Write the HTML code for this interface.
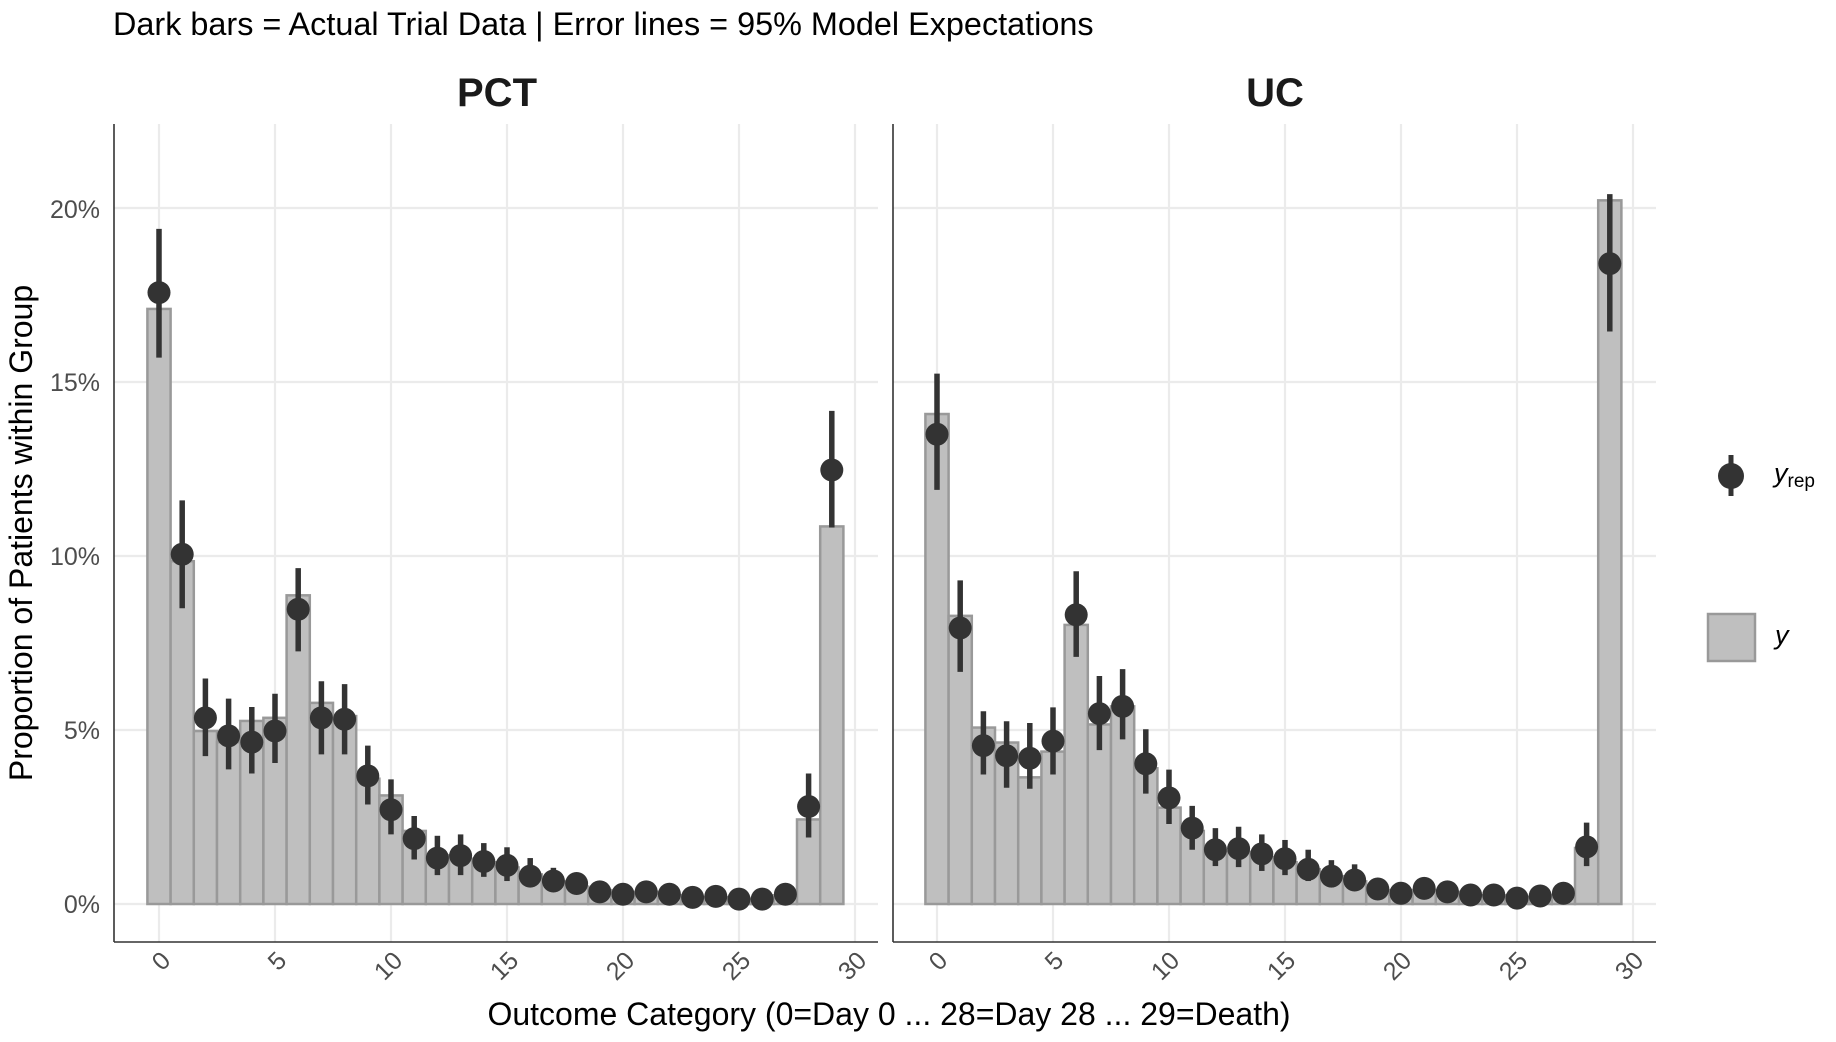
<!DOCTYPE html>
<html><head><meta charset="utf-8"><style>
html,body{margin:0;padding:0;background:#fff;}
svg{display:block;font-family:"Liberation Sans",sans-serif;}
</style></head><body>
<svg id="s" width="1836" height="1042" viewBox="0 0 1836 1042" xmlns="http://www.w3.org/2000/svg">
<rect width="1836" height="1042" fill="#fff"/>
<g id="grid"></g>
<g id="bars"></g>
<g id="pts"></g>
<!-- axes -->
<line x1="114" y1="124" x2="114" y2="942" stroke="#333" stroke-width="1.6"/>
<line x1="114" y1="942" x2="878" y2="942" stroke="#333" stroke-width="1.6"/>
<line x1="893" y1="124" x2="893" y2="942" stroke="#333" stroke-width="1.6"/>
<line x1="893" y1="942" x2="1656" y2="942" stroke="#333" stroke-width="1.6"/>
<text x="113" y="35" font-size="32.4" fill="#000">Dark bars = Actual Trial Data | Error lines = 95% Model Expectations</text>
<text x="497" y="106" font-size="40" font-weight="bold" text-anchor="middle" fill="#1a1a1a">PCT</text>
<text x="1275" y="106" font-size="40" font-weight="bold" text-anchor="middle" fill="#1a1a1a">UC</text>
<g font-size="25" fill="#4d4d4d" text-anchor="end">
<text x="100" y="913">0%</text>
<text x="100" y="739">5%</text>
<text x="100" y="565">10%</text>
<text x="100" y="391">15%</text>
<text x="100" y="218">20%</text>
</g>
<text transform="translate(32,533) rotate(-90)" font-size="32" text-anchor="middle" fill="#000">Proportion of Patients within Group</text>
<text x="889" y="1025" font-size="32" text-anchor="middle" fill="#000">Outcome Category (0=Day 0 ... 28=Day 28 ... 29=Death)</text>
<g font-size="25" fill="#4d4d4d" text-anchor="end">
<text transform="translate(172,962) rotate(-45)">0</text>
<text transform="translate(288,962) rotate(-45)">5</text>
<text transform="translate(404,962) rotate(-45)">10</text>
<text transform="translate(520,962) rotate(-45)">15</text>
<text transform="translate(636,962) rotate(-45)">20</text>
<text transform="translate(752,962) rotate(-45)">25</text>
<text transform="translate(868,962) rotate(-45)">30</text>
<text transform="translate(949,962) rotate(-45)">0</text>
<text transform="translate(1065,962) rotate(-45)">5</text>
<text transform="translate(1181,962) rotate(-45)">10</text>
<text transform="translate(1297,962) rotate(-45)">15</text>
<text transform="translate(1413,962) rotate(-45)">20</text>
<text transform="translate(1529,962) rotate(-45)">25</text>
<text transform="translate(1645,962) rotate(-45)">30</text>
</g>
<!-- legend -->
<line x1="1731" y1="455" x2="1731" y2="496" stroke="#333" stroke-width="5"/>
<circle cx="1731" cy="476" r="13" fill="#333"/>
<text x="1774" y="482" font-size="27" font-style="italic" fill="#000">y<tspan font-size="19" font-style="normal" dy="5">rep</tspan></text>
<rect x="1708" y="614" width="47" height="47" fill="#bfbfbf" stroke="#999" stroke-width="2.5"/>
<text x="1775" y="644" font-size="27" font-style="italic" fill="#000">y</text>
</svg>
<script>
var NS="http://www.w3.org/2000/svg";
function el(p,t,a){var e=document.createElementNS(NS,t);for(var k in a)e.setAttribute(k,a[k]);document.getElementById(p).appendChild(e);}
function Y(v){return 904-v*34.8;}
var panels=[{L:114,R:878,x0:159},{L:893,R:1656,x0:937}];
var U=23.2;
panels.forEach(function(p){
 for(var v=0;v<=20;v+=5)el("grid","line",{x1:p.L,x2:p.R,y1:Y(v),y2:Y(v),stroke:"#ebebeb","stroke-width":2.2});
 for(var i=0;i<=30;i+=5)el("grid","line",{x1:p.x0+i*U,x2:p.x0+i*U,y1:124,y2:942,stroke:"#ebebeb","stroke-width":2.2});
});
var barsP=[17.1,9.85,4.97,4.65,5.26,5.35,8.87,5.78,5.4,3.6,3.12,2.1,1.4,1.3,1.2,1.05,0.85,0.65,0.5,0.4,0.3,0.35,0.25,0.2,0.2,0.15,0.15,0.25,2.43,10.85];
var barsU=[14.08,8.28,5.07,4.64,3.64,4.38,8.02,5.16,5.68,3.9,2.77,2.1,1.5,1.5,1.35,1.2,1.0,0.8,0.65,0.4,0.3,0.4,0.35,0.25,0.25,0.2,0.2,0.25,1.61,20.22];
var ptsP=[[17.57,19.4,15.7],[10.05,11.6,8.5],[5.35,6.48,4.25],[4.83,5.9,3.87],[4.65,5.66,3.75],[4.97,6.04,4.05],[8.47,9.65,7.26],[5.35,6.4,4.3],[5.31,6.32,4.3],[3.68,4.55,2.86],[2.71,3.58,2.0],[1.88,2.53,1.28],[1.32,1.96,0.83],[1.39,2.0,0.83],[1.22,1.75,0.78],[1.11,1.63,0.66],[0.8,1.32,0.56],[0.66,1.04,0.4],[0.59,0.87,0.35],[0.35,0.5,0.2],[0.28,0.42,0.15],[0.35,0.5,0.2],[0.28,0.42,0.15],[0.19,0.3,0.1],[0.22,0.33,0.1],[0.14,0.25,0.05],[0.14,0.25,0.05],[0.28,0.42,0.15],[2.8,3.75,1.91],[12.47,14.17,10.82]];
var ptsU=[[13.5,15.24,11.9],[7.93,9.3,6.67],[4.55,5.54,3.72],[4.26,5.25,3.34],[4.19,5.2,3.31],[4.68,5.65,3.72],[8.31,9.56,7.1],[5.47,6.55,4.42],[5.68,6.75,4.73],[4.03,5.02,3.17],[3.05,3.86,2.3],[2.18,2.82,1.56],[1.56,2.18,1.09],[1.59,2.22,1.06],[1.44,2.0,0.95],[1.3,1.84,0.83],[1.0,1.56,0.66],[0.8,1.26,0.48],[0.69,1.14,0.45],[0.43,0.6,0.28],[0.31,0.45,0.18],[0.45,0.6,0.3],[0.35,0.5,0.2],[0.26,0.4,0.15],[0.26,0.4,0.15],[0.17,0.28,0.08],[0.23,0.35,0.12],[0.31,0.45,0.18],[1.64,2.34,1.09],[18.4,20.4,16.45]];
[[barsP,ptsP,panels[0]],[barsU,ptsU,panels[1]]].forEach(function(d){
 var p=d[2];
 d[0].forEach(function(v,i){var cx=p.x0+i*U;el("bars","rect",{x:cx-U/2,y:Y(v),width:U,height:Y(0)-Y(v),fill:"#bfbfbf",stroke:"#999","stroke-width":2.5});});
 d[1].forEach(function(q,i){var cx=p.x0+i*U;
  el("pts","line",{x1:cx,x2:cx,y1:Y(q[1]),y2:Y(q[2]),stroke:"#333","stroke-width":5.5});
  el("pts","circle",{cx:cx,cy:Y(q[0]),r:11.5,fill:"#333"});});
});
</script>
</body></html>
